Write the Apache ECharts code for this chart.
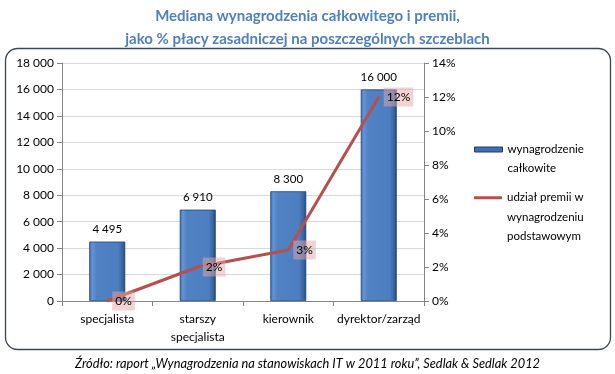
<!DOCTYPE html>
<html>
<head>
<meta charset="utf-8">
<script src="https://cdn.jsdelivr.net/npm/echarts@6/dist/echarts.min.js"></script>
<style>html,body{margin:0;padding:0;background:#fff}#c{width:615px;height:374px}</style>
</head>
<body>
<div id="c"></div>
<script>
const categories = ['specjalista', 'starszy\nspecjalista', 'kierownik', 'dyrektor/zarząd'];
const salaryValues = [4495, 6910, 8300, 16000];
const bonusPercent = [0, 2, 3, 12];
const leftTicks = { min: 0, max: 18000, interval: 2000 };
const rightTicks = { min: 0, max: 14, interval: 2 };
const seriesNames = ['wynagrodzenie całkowite', 'udział premii w wynagrodzeniu podstawowym'];

const FONT = 'Lato';
const fmtNum = v => String(v).replace(/\B(?=(\d{3})+(?!\d))/g, ' ');

const chart = echarts.init(document.getElementById('c'), null, { renderer: 'canvas' });
const barGrad = new echarts.graphic.LinearGradient(0, 0, 1, 0, [
  { offset: 0, color: '#3a68a8' },
  { offset: 0.08, color: '#6494d6' },
  { offset: 0.2, color: '#5082c4' },
  { offset: 0.8, color: '#4d7ec0' },
  { offset: 0.92, color: '#3a66a2' },
  { offset: 1, color: '#22447a' }
]);
chart.setOption({
  animation: false,
  textStyle: { fontFamily: FONT },
  graphic: [
    { type: 'rect', z: -10, shape: { x: 5.5, y: 48.5, width: 605, height: 301, r: 12 },
      style: { fill: '#fff', stroke: '#3d4652', lineWidth: 1.3 } },
    { type: 'text', left: 'center', top: 357,
      style: { text: 'Źródło: raport „Wynagrodzenia na stanowiskach IT w 2011 roku”, Sedlak & Sedlak 2012',
        fontFamily: FONT, fontStyle: 'italic', fontSize: 12.8, fill: '#000' } }
  ],
  title: {
    text: 'Mediana wynagrodzenia całkowitego i premii,\njako % płacy zasadniczej na poszczególnych szczeblach',
    left: 'center', top: 0,
    textStyle: { fontFamily: FONT, fontWeight: 'bold', fontSize: 15, color: '#4f81bd', lineHeight: 23 }
  },
  legend: [
    { data: [seriesNames[0]], orient: 'vertical', left: 474, top: 121, padding: 0,
      itemWidth: 28, itemHeight: 5, itemGap: 3, icon: 'rect',
      formatter: () => ' \nwynagrodzenie\ncałkowite',
      textStyle: { fontFamily: FONT, fontSize: 11.5, color: '#000', lineHeight: 19 },
      itemStyle: { color: '#3f6fb3', borderColor: '#1f3d6b', borderWidth: 1 } },
    { data: [seriesNames[1]], orient: 'vertical', left: 474, top: 149, padding: 0,
      itemWidth: 28, itemHeight: 3, itemGap: 3, icon: 'rect',
      formatter: () => ' \n \nudział premii w\nwynagrodzeniu\npodstawowym',
      textStyle: { fontFamily: FONT, fontSize: 11.5, color: '#000', lineHeight: 19.5 },
      itemStyle: { color: '#b5504d', opacity: 1 } }
  ],
  grid: { left: 62, right: 191, top: 63, bottom: 73, containLabel: false },
  xAxis: {
    type: 'category', data: categories,
    axisLine: { lineStyle: { color: '#868686' } },
    axisTick: { show: true, length: 5, lineStyle: { color: '#868686' } },
    axisLabel: { interval: 0, color: '#000', fontSize: 12, lineHeight: 18, margin: 9, fontFamily: FONT }
  },
  yAxis: [
    { type: 'value', min: leftTicks.min, max: leftTicks.max, interval: leftTicks.interval,
      axisLine: { show: true, lineStyle: { color: '#868686' } },
      axisTick: { show: true, length: 5, lineStyle: { color: '#868686' } },
      splitLine: { lineStyle: { color: '#d9d9d9' } },
      axisLabel: { color: '#000', fontSize: 12, margin: 8, formatter: v => fmtNum(v), fontFamily: FONT } },
    { type: 'value', position: 'right', min: rightTicks.min, max: rightTicks.max, interval: rightTicks.interval,
      axisLine: { show: true, lineStyle: { color: '#868686' } },
      axisTick: { show: true, length: 5, lineStyle: { color: '#868686' } },
      splitLine: { show: false },
      axisLabel: { color: '#000', fontSize: 12, margin: 8, formatter: '{value}%', fontFamily: FONT } }
  ],
  series: [
    { name: seriesNames[0], type: 'bar', data: salaryValues, barWidth: 36, yAxisIndex: 0,
      itemStyle: { color: barGrad, borderColor: '#24467a', borderWidth: 0.8 },
      label: { show: true, position: 'top', distance: 6, color: '#000', fontSize: 11.5, fontFamily: FONT,
        formatter: p => fmtNum(p.value) } },
    { name: seriesNames[1], type: 'line', data: bonusPercent, yAxisIndex: 1, z: 5,
      symbol: 'circle', symbolSize: 2, showSymbol: true,
      lineStyle: { color: '#b5504d', width: 3 }, itemStyle: { color: '#b5504d' },
      label: { show: true, position: 'right', distance: 4, color: '#000', fontSize: 12, fontFamily: FONT,
        backgroundColor: 'rgba(226,170,170,0.5)', padding: [4, 3, 3, 3], formatter: p => p.value + '%' } }
  ]
});
</script>
</body>
</html>
